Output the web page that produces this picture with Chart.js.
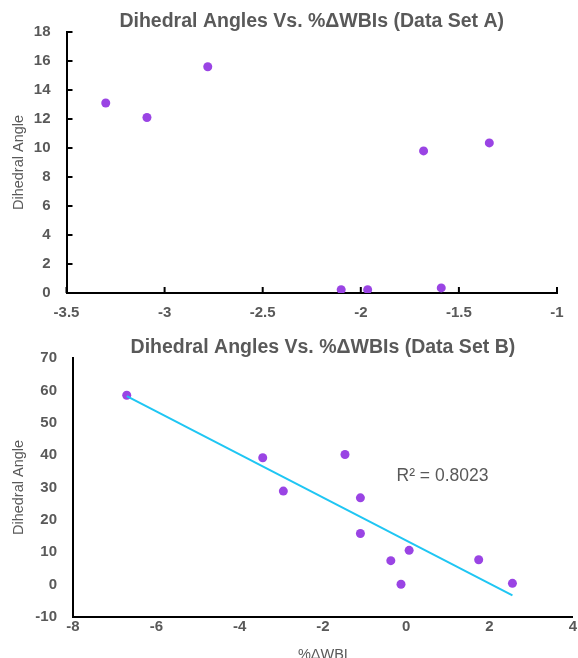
<!DOCTYPE html>
<html>
<head>
<meta charset="utf-8">
<script src="https://cdn.jsdelivr.net/npm/chart.js@4/dist/chart.umd.min.js"></script>
<style>
  html, body { margin: 0; padding: 0; background: #fff; overflow: hidden; width: 578px; height: 658px; }
  .wrap { position: absolute; left: 0; width: 578px; }
  #wrapA { top: 0; height: 330px; }
  #wrapB { top: 330px; height: 340px; }
</style>
</head>
<body>
<div class="wrap" id="wrapA"><canvas id="chartA" width="578" height="330"></canvas></div>
<div class="wrap" id="wrapB"><canvas id="chartB" width="578" height="340"></canvas></div>
<script>
// data set A
const xA = [-3.3, -3.09, -2.78, -2.1, -1.965, -1.68, -1.59, -1.345];
const yA = [13.1, 12.1, 15.6, 0.23, 0.23, 9.8, 0.35, 10.35];

// data set B
const xB = [-6.71, -3.445, -2.95, -1.47, -1.1, -1.1, -0.37, -0.125, 0.07, 1.74, 2.55];
const yB = [58.5, 39.2, 28.9, 40.2, 26.8, 15.8, 7.4, 0.1, 10.6, 7.7, 0.4];

const titleA = "Dihedral Angles Vs. %\u0394WBIs (Data Set A)";
const titleB = "Dihedral Angles Vs. %\u0394WBIs (Data Set B)";
const yTitle = "Dihedral Angle";
const xTitleB = "%\u0394WBI";
const r2Text = "R\u00b2 = 0.8023";
const r2Pos = { x: 0.87, y: 33.4 };

const FONT = "'Liberation Sans', Arial, sans-serif";
const GREY = "#595959";
const PURPLE = "#9a44e4";
const CYAN = "#1fc6f3";

Chart.defaults.font.family = FONT;
Chart.defaults.color = GREY;
Chart.defaults.animation = false;

function toPoints(xs, ys) {
  return xs.map((x, i) => ({ x: x, y: ys[i] }));
}

// least squares line through set B, drawn from min x to max x
function trendLine(xs, ys) {
  const n = xs.length;
  const mx = xs.reduce((a, b) => a + b, 0) / n;
  const my = ys.reduce((a, b) => a + b, 0) / n;
  let sxy = 0, sxx = 0;
  xs.forEach((x, i) => { sxy += (x - mx) * (ys[i] - my); sxx += (x - mx) * (x - mx); });
  const slope = sxy / sxx;
  const icpt = my - slope * mx;
  const lo = Math.min(...xs), hi = Math.max(...xs);
  return [{ x: lo, y: icpt + slope * lo }, { x: hi, y: icpt + slope * hi }];
}

const plainNum = v => String(Math.round(v * 100) / 100);

// small tick marks pointing into the plot (chart A)
const innerTicks = {
  id: 'innerTicks',
  afterDraw(chart) {
    const ctx = chart.ctx, area = chart.chartArea;
    const len = 6;
    ctx.save();
    ctx.strokeStyle = '#000';
    ctx.lineWidth = 2;
    ctx.beginPath();
    chart.scales.x.ticks.forEach(t => {
      const px = chart.scales.x.getPixelForValue(t.value);
      ctx.moveTo(px, area.bottom);
      ctx.lineTo(px, area.bottom - len);
    });
    chart.scales.y.ticks.forEach(t => {
      const py = chart.scales.y.getPixelForValue(t.value);
      ctx.moveTo(area.left, py);
      ctx.lineTo(area.left + len, py);
    });
    ctx.stroke();
    ctx.restore();
  }
};

const r2Label = {
  id: 'r2Label',
  afterDatasetsDraw(chart) {
    const ctx = chart.ctx;
    ctx.save();
    ctx.font = "17.5px " + FONT;
    ctx.fillStyle = GREY;
    ctx.textAlign = 'center';
    ctx.textBaseline = 'middle';
    ctx.fillText(r2Text, chart.scales.x.getPixelForValue(r2Pos.x), chart.scales.y.getPixelForValue(r2Pos.y));
    ctx.restore();
  }
};

new Chart(document.getElementById('chartA'), {
  type: 'scatter',
  data: {
    datasets: [{
      data: toPoints(xA, yA),
      backgroundColor: PURPLE,
      borderWidth: 0,
      pointRadius: 4.5
    }]
  },
  options: {
    responsive: false,
    layout: { padding: { left: 0, right: 21, top: 0, bottom: 0 } },
    plugins: {
      legend: { display: false },
      tooltip: { enabled: false },
      title: {
        display: true, text: titleA, fullSize: false, color: GREY,
        font: { size: 19.5, weight: 'bold', lineHeight: 1 },
        padding: { top: 12.25, bottom: 0.25 }
      }
    },
    scales: {
      x: {
        type: 'linear', min: -3.5, max: -1,
        ticks: { stepSize: 0.5, padding: 11, font: { size: 15, weight: 'bold' }, color: GREY, callback: plainNum },
        grid: { display: false, tickLength: 0 },
        border: { color: '#000', width: 2 },
        afterFit: s => { s.height = 37; }
      },
      y: {
        min: 0, max: 18,
        ticks: { stepSize: 2, padding: 16, font: { size: 15, weight: 'bold' }, color: GREY },
        grid: { display: false, tickLength: 0 },
        border: { color: '#000', width: 2 },
        title: { display: true, text: yTitle, color: GREY, font: { size: 14.5 }, padding: { top: 10.3, bottom: 0 } },
        afterFit: s => { s.width = 66.5; }
      }
    }
  },
  plugins: [innerTicks]
});

new Chart(document.getElementById('chartB'), {
  type: 'scatter',
  data: {
    datasets: [{
      data: trendLine(xB, yB),
      showLine: true,
      borderColor: CYAN,
      borderWidth: 2,
      pointRadius: 0,
      order: 0
    }, {
      data: toPoints(xB, yB),
      backgroundColor: PURPLE,
      borderWidth: 0,
      pointRadius: 4.5,
      order: 1
    }]
  },
  options: {
    responsive: false,
    layout: { padding: { left: 0, right: 4, top: 0, bottom: 0 } },
    plugins: {
      legend: { display: false },
      tooltip: { enabled: false },
      title: {
        display: true, text: titleB, fullSize: false, color: GREY,
        font: { size: 19.5, weight: 'bold', lineHeight: 1 },
        padding: { top: 8.25, bottom: 0.25 }
      }
    },
    scales: {
      x: {
        type: 'linear', min: -8, max: 4,
        ticks: { stepSize: 2, padding: 1, font: { size: 15, weight: 'bold' }, color: GREY, callback: plainNum },
        grid: { display: false, tickLength: 0 },
        border: { color: '#000', width: 2 },
        title: { display: true, text: xTitleB, color: GREY, font: { size: 14.5 }, padding: { top: 0, bottom: 6.5 } },
        afterFit: s => { s.height = 53; }
      },
      y: {
        min: -10, max: 70,
        ticks: { stepSize: 10, padding: 16, font: { size: 15, weight: 'bold' }, color: GREY },
        grid: { display: false, tickLength: 0 },
        border: { color: '#000', width: 2 },
        title: { display: true, text: yTitle, color: GREY, font: { size: 14.5 }, padding: { top: 9.8, bottom: 0 } },
        afterFit: s => { s.width = 73; }
      }
    }
  },
  plugins: [r2Label]
});
</script>
</body>
</html>
